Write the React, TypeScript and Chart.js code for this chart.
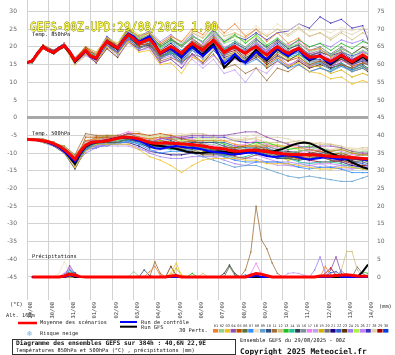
import { useEffect, useRef } from "react";
import { Chart, registerables } from "chart.js";
Chart.register(...registerables);

const titleText = "GEFS-00Z-UPD:29/08/2025 1.00";
const dateLabels = ["29/08","30/08","31/08","01/09","02/09","03/09","04/09","05/09","06/09","07/09","08/09","09/09","10/09","11/09","12/09","13/09","14/09"];
const dayHours = [0,24,48,72,96,120,144,168,192,216,240,264,288,312,336,360,384];
const tempTicks = [30,25,20,15,10,5,0,-5,-10,-15,-20,-25,-30,-35,-40,-45];
const rightTicks = [75,70,65,60,55,50,45,40,35,30,25,20,15,10,5,0];
const pertLabels = ["01","02","03","04","05","06","07","08","09","10","11","12","13","14","15","16","17","18","19","20","21","22","23","24","25","26","27","28","29","30"];
const memberColors = ["#f08030","#90d090","#f0c020","#9050b0","#c05000","#607030","#3090ff","#f0e0c0","#60a0d0","#305080","#a0703a","#d0c080","#20c020","#20c0a0","#304050","#8090a0","#f080f0","#c0a0f0","#d0b000","#707070","#200080","#3060d0","#603000","#a080f0","#b0f040","#c080ff","#4030c0","#e0d0b0","#a00000","#0040e0"];

const hours6 = [0,6,12,18,24,30,36,42,48,54,60,66,72,78,84,90,96,102,108,114,120,126,132,138,144,150,156,162,168,174,180,186,192,198,204,210,216,222,228,234,240,246,252,258,264,270,276,282,288,294,300,306,312,318,324,330,336,342,348,354,360,366,372,378,384];
const memberHours = [0,6,18,30,42,54,66,78,90,102,114,126,138,150,162,174,186,198,210,222,234,246,258,270,282,294,306,318,330,342,354,366,378,384];

const t850Mean = [15.6,16.0,18.2,20.0, 19.0,18.4,19.6,20.3, 18.6,16.2,17.6,19.0, 17.4,16.8,19.6,21.5, 20.6,19.6,21.6,23.4, 22.4,21.0,21.6,22.2, 20.4,18.3,19.2,20.1, 19.2,18.2,19.8,21.0, 20.0,19.1,20.6,21.9, 20.2,18.4,19.4,20.1, 19.0,18.2,19.3,20.1, 18.8,17.7,19.0,20.1, 19.0,18.2,19.0,19.6, 18.2,17.1,17.2,17.4, 16.6,15.9,16.8,17.7, 16.6,15.8,16.8,17.7, 16.8];
const t850Control = [15.5,16.0,18.3,20.0, 19.2,18.5,19.8,20.5, 18.8,16.0,17.4,18.8, 17.2,16.5,19.4,21.6, 20.8,19.8,22.0,23.8, 23.0,21.4,22.3,23.0, 21.0,18.0,18.8,19.5, 18.3,17.0,18.6,20.0, 18.6,17.4,18.8,20.2, 17.6,15.2,16.4,18.0, 16.5,15.5,17.0,18.6, 17.4,16.6,18.2,19.6, 18.3,17.4,18.4,19.2, 17.6,16.4,17.0,17.8, 16.2,15.4,16.6,17.9, 16.8,16.0,16.8,17.6, 16.6];
const t850Gfs = [15.6,16.1,18.4,20.2, 19.0,18.2,19.4,20.1, 18.3,15.8,17.3,18.9, 17.3,16.6,19.6,21.4, 20.3,19.4,21.7,23.5, 22.6,21.2,21.8,22.6, 20.8,18.1,19.0,20.0, 18.8,17.8,19.4,20.6, 19.0,17.8,19.5,20.8, 17.8,14.2,15.6,17.2, 16.0,15.8,17.6,19.2, 17.8,16.2,17.8,19.4, 18.4,17.6,18.6,19.4, 17.5,16.2,16.8,17.6, 16.0,15.0,16.2,17.4, 16.3,15.4,16.2,17.2, 16.0];

const t850Members = [
  [15.5,16,20.5,18.5,21, 16,19.5,18,22.5, 20.5,25,23,24, 21,23,21.5,25, 23.5,27,24,26.5, 23,25,21.5,24, 21,22.5,19,19.5, 17,18.5,16,18,17],
  [15.5,16,19.5,18.5,20.5, 16.5,19,17.5,22.5, 20.5,24.5,22.5,23, 19.5,21.5,20,23, 21.5,24,21,22, 20,21.5,19.5,22.5, 20,21,18.5,19.5, 17.5,19.5,18,19,18.5],
  [15.5,16,20,18,20, 15,18,16,20, 18,21.5,18.5,19, 15,15.5,12.5,17, 16,19.5,16.5,18.5, 16,18,14.5,17, 14.5,15.5,13,12.5, 11,11.5,9.5,10.5,10],
  [15.5,16.5,20,18.5,21, 15.5,18,15.5,20.5, 18.5,22,19,20, 15.5,16.5,14,18, 17,20.5,17.5,20, 19,21.5,18.5,20.5, 18,20,18,18, 16,17,15,16.5,15.5],
  [15.5,16,20.5,19,20.5, 16.5,20,17.5,22.5, 20,23.5,20.5,21, 17.5,19.5,18,21.5, 20,23,19,20, 17.5,19,16,18, 16,17,15,16, 15,16.5,14.5,15.5,15],
  [15.5,15.5,19.5,18.5,20, 16,19.5,17,22, 20.5,25,22,23.5, 20.5,22.5,20,22.5, 20,22,17.5,18.5, 16,17.5,15.5,18.5, 17,19.5,17.5,18.5, 17.5,19.5,18,20,19.5],
  [15.5,16,20,19,21, 16,18.5,16.5,20.5, 18.5,23,21,22.5, 19.5,21.5,19,21.5, 19,21,16.5,17.5, 15,16.5,14.5,16.5, 14,15,13,14, 13,14.5,13.5,15.5,15],
  [15.5,16,20.5,18.5,20.5, 16.5,19.5,18,22.5, 21,24.5,22,23.5, 20.5,22.5,21,24.5, 23,26.5,23.5,25, 23.5,26,23.5,26.5, 24.5,26.5,24.5,25, 24,25.5,24.5,25.5,25],
  [15.5,16,19.5,18,20.5, 15.5,18,16.5,20.5, 18,22.5,19.5,21, 17,18,15.5,19, 16.5,19,16,18, 16.5,19,16,19, 17.5,18.5,15.5,15.5, 13.5,14.5,13,14,13.5],
  [15.5,16.5,20.5,18.5,20.5, 15.5,19,17.5,21.5, 20,24.5,21.5,22, 18,19,16.5,20, 18.5,22,19,21, 19.5,22,20,22, 19.5,20.5,17.5,17.5, 15.5,16.5,15,16,16],
  [15.5,16,20,18,20.5, 16,18.5,16,21, 18.5,22,20,20, 16,17,15.5,18, 15.5,18,14,15, 12.5,14,10.5,14, 13,15,13,14, 13,15,14,15.5,15.5],
  [15.5,16,20.5,19,21, 17,20,18.5,22.5, 20,24.5,22.5,24, 21,23,21.5,24, 22.5,26,23,24, 22.5,25,23,25, 23.5,25.5,23,24, 22,24,22,24,23],
  [15.5,16,20,19,21, 16.5,19,16.5,21.5, 20,24.5,22.5,24, 20,22,20.5,23, 21.5,25,21.5,23.5, 21,23.5,20.5,22.5, 20,22,20,21, 19,21,19.5,21.5,21],
  [15.5,15.5,20,18.5,20, 15.5,18.5,16,21, 18.5,23,21,21.5, 17.5,18.5,17,20.5, 19,22.5,19.5,21.5, 19,20.5,17.5,19.5, 17,18,15,15.5, 13.5,15.5,13.5,14.5,14],
  [15.5,16,20.5,18.5,20.5, 16,19.5,17,22, 19.5,23,20,20.5, 17.5,18.5,16,19.5, 18,21.5,18.5,19.5, 17,18.5,15.5,17.5, 16,18,16,16, 14,15,14,15,14],
  [15.5,16,19.5,18.5,21, 16,19.5,18,22, 19.5,24,22,22.5, 18.5,19.5,18,21.5, 20,23.5,19.5,20.5, 18,19.5,16.5,19.5, 18,20,18,19, 18,19,17,19,18],
  [15.5,16.5,20.5,18.5,20.5, 15.5,18.5,17,22, 20.5,24,21,21.5, 17.5,19.5,18,22, 20.5,24,20,21, 18.5,21,19,22, 20.5,21.5,18.5,18.5, 16.5,17.5,16.5,18.5,18],
  [15.5,16,20,18,20, 15,17.5,16,20, 17.5,21,19,19.5, 15.5,16.5,14,16.5, 14,16.5,12.5,13.5, 10,14,12.5,16, 14.5,16.5,14.5,15.5, 14.5,16.5,14.5,16.5,16],
  [15.5,16,20.5,19,20.5, 16.5,20,18.5,22.5, 21,25.5,22.5,23, 19,20,17.5,20, 17.5,21,18,20, 18.5,20,17,19, 16.5,17.5,14.5,14.5, 12.5,13.5,11.5,12.5,12],
  [15.5,16,20,18.5,21, 16,18.5,17,21, 18.5,23,20,20.5, 16.5,18.5,17,20.5, 19,22.5,19.5,21.5, 20,22.5,19.5,21.5, 19,21,19,20, 18,20,18,20,19],
  [15.5,16,20.5,18.5,20.5, 15.5,19,16.5,20.5, 18,22.5,20.5,22, 19,21,18.5,21, 18.5,21,17,18, 15.5,18,16,19, 17.5,19.5,17.5,18.5, 17.5,18.5,16.5,17.5,17],
  [15.5,16,19.5,18,20, 16,19.5,18,23, 20.5,24,21,21.5, 17.5,18,15.5,19, 17.5,21,18,20, 18.5,21,18,20, 17.5,18.5,16.5,17.5, 16.5,18.5,17.5,18.5,18],
  [15.5,16,20,19,20.5, 15.5,18,15.5,19.5, 17,21.5,19.5,21, 17,18,15.5,18, 15.5,19,16,18, 15.5,17,14,16, 14,16,14,15, 14,15,13,14,13],
  [15.5,16.5,20,19,21, 17,19.5,17,22, 20.5,25,23,24.5, 21.5,23.5,21,23.5, 21,23.5,19.5,20.5, 18,20.5,18.5,21.5, 20,22,20,21, 20,22,21,22,21],
  [15.5,16,20.5,18.5,20, 15.5,19,17.5,22.5, 21,25.5,23.5,24, 20,21,18.5,22, 20.5,24,21,23, 21.5,23,20,22, 19.5,20.5,17.5,17.5, 15.5,17.5,16.5,18.5,17.5],
  [15.5,16,19.5,18,20.5, 15.5,18.5,16,20, 18.5,23,20,20.5, 16.5,17.5,15,17.5, 15,17.5,14.5,16.5, 15,17.5,15.5,17.5, 15,16,14,15, 14,16,15,16,15],
  [15.5,16,20,18.5,20.5, 16,19.5,17.5,22, 20,24,21.5,23, 20,22,20,23, 21.5,24.5,21.5,23, 22,24,22,24, 24.5,26.5,25.3,28.5, 26.7,27.8,25.3,26,22],
  [15.5,16,20,19,21, 16,19.5,17.5,22.5, 20,24.5,22.5,23, 20,22,20.5,24, 22.5,25,22,24, 22.5,25,23,25, 23,25,23,24, 22.5,24.5,23.5,25,24],
  [15.5,16,20.5,19,21, 16,19,17.5,22, 19.5,23,20.5,21, 17,19,17.5,21, 19.5,22,18,19, 16.5,18,15,17, 14.5,16.5,14.5,15.5, 14.5,15.5,13.5,14.5,13.5],
  [15.5,16,20,18.5,20.5, 16.5,20,17.5,21.5, 19,22.5,19.5,21, 18,20,18.5,22, 19.5,22,18,20, 18.5,21,19,21, 18.5,19.5,16.5,16.5, 14.5,16.5,15.5,16.5,15.5]
];

const t500Mean = [-6.1,-6.2,-6.3,-6.5, -6.8,-7.3,-8.0,-9.0, -10.3,-11.8,-9.5,-7.8, -7.0,-6.8,-6.7,-6.5, -6.2,-5.8,-5.5,-5.5, -5.7,-6.0,-6.5,-7.0, -7.2,-7.2,-7.1,-7.2, -7.3,-7.4,-7.5,-7.6, -7.8,-8.0,-8.3,-8.5, -8.6,-8.8,-9.2,-9.5, -9.5,-9.3,-9.2,-9.2, -9.4,-9.6,-9.8,-10.0, -10.2,-10.3,-10.4,-10.5, -10.5,-10.5,-10.5,-10.6, -10.8,-10.9,-11.0,-11.0, -11.2,-11.3,-11.4,-11.5, -11.6];
const t500Control = [-6.1,-6.2,-6.4,-6.6, -7.0,-7.6,-8.4,-9.6, -11.0,-12.4,-10.0,-8.0, -7.2,-6.9,-6.6,-6.4, -6.0,-5.7,-5.5,-5.6, -6.0,-6.5,-7.2,-8.0, -8.6,-8.8,-8.5,-8.2, -8.0,-8.2,-8.4,-8.5, -8.7,-9.0,-9.4,-9.6, -9.8,-10.0,-10.3,-10.4, -10.2,-10.0,-9.8,-10.0, -10.4,-10.8,-11.0,-11.0, -10.8,-10.6,-10.8,-11.2, -11.6,-11.8,-11.6,-11.4, -11.2,-11.4,-11.6,-11.8, -11.6,-11.4,-11.5,-11.8, -12.0];
const t500Gfs = [-6.1,-6.2,-6.3,-6.6, -7.0,-7.5,-8.3,-9.5, -11.2,-13.0,-10.2,-8.2, -7.3,-7.0,-6.8,-6.5, -6.1,-5.8,-5.6,-5.6, -5.9,-6.3,-6.8,-7.4, -7.8,-8.0,-8.2,-8.5, -8.8,-9.2,-9.6,-9.8, -10.0,-9.9,-9.7,-9.6, -9.5,-9.6,-9.8,-9.9, -9.8,-9.6,-9.4,-9.3, -9.4,-9.6,-9.6,-9.2, -8.8,-8.2,-7.6,-7.2, -7.0,-7.2,-7.8,-8.6, -9.4,-10.0,-10.6,-11.2, -11.8,-12.6,-13.3,-14.0, -14.4];

const t500Members = [
  [-6,-6,-6.5,-7,-9, -11,-6.5,-6,-6, -5.5,-5.5,-5.5,-6, -5.5,-6,-7,-6.5, -6.5,-6.5,-6.5,-7.5, -8,-8,-8,-8, -8,-8.5,-9,-9.5, -9.5,-9,-10,-10.5,-10.5],
  [-6,-6,-6,-7.5,-8.5, -11.5,-8,-6.5,-6.5, -6.5,-5.5,-5.5,-7, -7.5,-8,-8,-7.5, -7.5,-7.5,-8.5,-9.5, -9,-8,-8,-9, -10,-9.5,-9,-8.5, -9.5,-10,-10,-9.5,-9.5],
  [-6,-6,-7,-7.5,-10, -14,-9.5,-7.5,-7.5, -7.5,-7.5,-9,-11, -12,-13.5,-15.5,-13.5, -12,-11.5,-11.5,-11.5, -12,-12,-13,-13, -13,-13.5,-14,-14.5, -14.5,-14,-14,-14.5,-14.5],
  [-6,-6,-6.5,-8,-8.5, -11,-6.5,-6.5,-6.5, -5.5,-4.5,-5.5,-7, -6,-5.5,-5.5,-5, -5,-5,-5,-4.5, -4,-4,-5.5,-6.5, -7.5,-8,-8.5,-8, -8,-8.5,-9.5,-10,-10],
  [-6,-6,-6,-7,-9, -13,-5.5,-5.5,-5.5, -5.5,-4.5,-4.5,-5, -4.5,-5,-6,-6.5, -7.5,-8.5,-8.5,-8.5, -8,-8,-9,-10, -11,-11.5,-11,-10.5, -10.5,-10,-11,-11.5,-12],
  [-6,-6,-6.5,-7.5,-9.5, -13.5,-8.5,-7,-7, -7,-6,-6,-6.5, -7,-7.5,-8.5,-9, -10,-10,-10,-10, -9.5,-8.5,-9.5,-10.5, -11.5,-12,-11.5,-11, -11,-10.5,-11.5,-12,-12.5],
  [-6,-6,-6.5,-7.5,-9, -12.5,-9,-7.5,-7.5, -7.5,-6.5,-7.5,-9, -10,-9.5,-9.5,-9, -9,-10,-11,-12, -12.5,-12.5,-12.5,-12.5, -13,-14,-14.5,-14, -14,-14.5,-15.5,-15.5,-15.5],
  [-6,-6,-6,-7.5,-8.5, -11,-7,-6.5,-6, -6,-5,-5,-5.5, -5,-4.5,-4.5,-5, -6,-6,-6,-6, -5.5,-4.5,-5.5,-6.5, -7.5,-7,-7.5,-8, -9,-8.5,-8.5,-9,-9.5],
  [-6,-6,-7,-8,-9.5, -13,-9,-7.5,-7.5, -7,-7,-7,-7.5, -8,-8.5,-9.5,-10, -11,-12,-13,-14, -13.5,-13.5,-14.5,-15.5, -16.5,-17,-16.5,-17, -17.5,-18,-18,-17,-16.5],
  [-6,-6,-6.5,-7,-8.5, -12,-8.5,-7,-6, -6,-6,-7,-8.5, -8,-7.5,-7.5,-7, -7,-7,-8,-9, -9.5,-9.5,-10.5,-11.5, -11.5,-11,-10.5,-10, -11,-11.5,-12.5,-12.5,-13],
  [-6,-6,-6.5,-7.5,-8, -10.5,-4.5,-5,-5, -5,-5,-6,-7.5, -8,-8.5,-8.5,-8, -8,-9,-10,-11, -11.5,-10.5,-10.5,-10.5, -10.5,-10,-10.5,-11, -12,-12.5,-12.5,-12,-11.5],
  [-6,-6,-6,-7,-9, -11.5,-7,-5.5,-5.5, -5.5,-4.5,-4.5,-6, -5.5,-5,-5,-4.5, -4.5,-5.5,-6.5,-6.5, -6,-6,-7,-7, -7,-6.5,-7,-7.5, -7.5,-8,-9,-8.5,-8.5],
  [-6,-6,-6.5,-7.5,-9, -11.5,-8,-7.5,-6.5, -5.5,-5.5,-6.5,-8, -7.5,-7,-7,-6.5, -6.5,-6.5,-7.5,-8.5, -8,-7,-7,-8, -9,-8.5,-8,-8.5, -9.5,-9,-10,-10.5,-10.5],
  [-6,-6,-7,-7.5,-9.5, -12.5,-9,-7.5,-6.5, -6.5,-6.5,-7.5,-8, -8.5,-9,-9,-8.5, -8.5,-9.5,-10.5,-11.5, -11,-10,-10,-11, -11.5,-12.5,-13,-12.5, -12.5,-13,-14,-14.5,-14.5],
  [-6,-6,-6.5,-8,-10, -14.5,-9,-7.5,-7, -6,-5,-6,-7.5, -7,-6.5,-7.5,-8, -9,-9,-9,-9, -9.5,-9.5,-9.5,-9.5, -9.5,-10,-10.5,-11, -11,-10.5,-11.5,-12,-12],
  [-6,-6,-6,-7.5,-9, -12.5,-7.5,-6,-6, -6,-6,-7,-8.5, -9,-8.5,-8.5,-8, -8,-9,-10,-10, -9.5,-8.5,-8.5,-9.5, -10.5,-11,-11.5,-11, -11,-11.5,-12.5,-12,-12],
  [-6,-6,-6.5,-7,-8.5, -11,-7.5,-7,-6, -5,-4,-5,-6.5, -6,-5.5,-5.5,-6, -7,-8,-8,-8, -7.5,-6.5,-7.5,-8.5, -9.5,-10,-9.5,-9, -9,-9.5,-10.5,-10,-10],
  [-6,-6,-7,-8,-10, -13.5,-9.5,-8,-8, -8,-8,-9,-9.5, -9,-8.5,-9.5,-10, -11,-11,-11,-11, -11.5,-11.5,-12.5,-13.5, -13.5,-13,-12.5,-13, -14,-14.5,-14.5,-14,-14],
  [-6,-6,-6,-7,-8.5, -10.5,-7,-6.5,-6.5, -6.5,-5.5,-5.5,-6, -6.5,-7,-8,-8.5, -9.5,-9.5,-9.5,-9.5, -9,-9,-10,-11, -12,-11.5,-11,-10.5, -10.5,-10,-11,-11.5,-11.5],
  [-6,-6,-6.5,-7.5,-9.5, -13,-8,-6.5,-5.5, -5.5,-5.5,-5.5,-6, -5.5,-6,-7,-7.5, -8.5,-8.5,-8.5,-8.5, -9,-9,-10,-10, -10,-9.5,-9,-9.5, -10.5,-11,-11,-10.5,-10.5],
  [-6,-6,-6.5,-7,-9, -13,-8.5,-7,-7, -7,-7,-8,-9.5, -10,-10.5,-10.5,-10, -10,-10,-10,-10, -9.5,-9.5,-10.5,-11.5, -11.5,-11,-10.5,-11, -12,-12.5,-13.5,-14,-14],
  [-6,-6,-7,-7.5,-8.5, -11.5,-8.5,-8,-8, -7,-6,-7,-8.5, -8,-7.5,-7.5,-7, -7,-7,-7,-8, -8.5,-8.5,-9.5,-10.5, -11.5,-12,-11.5,-11, -11,-11.5,-12.5,-13,-13.5],
  [-6,-6,-6.5,-8,-9, -12.5,-7,-5.5,-5.5, -5.5,-4.5,-5.5,-7, -7.5,-8,-9,-9.5, -10.5,-10.5,-10.5,-10.5, -10,-9,-9,-10, -11,-10.5,-10,-9.5, -10.5,-11,-12,-11.5,-11.5],
  [-6,-6,-6,-7.5,-9.5, -13.5,-10,-8.5,-7.5, -7.5,-7.5,-8.5,-10, -11,-11.5,-11.5,-11, -11,-11,-12,-13, -13.5,-12.5,-12.5,-12.5, -12.5,-13,-13.5,-14, -14,-13.5,-13.5,-14,-14.5],
  [-6,-6,-6.5,-7,-8, -11,-7.5,-6,-5, -5,-5,-5,-5.5, -5,-5.5,-6.5,-6, -6,-6,-7,-8, -8.5,-7.5,-7.5,-7.5, -8.5,-9,-9.5,-9, -9,-8.5,-9.5,-10,-10],
  [-6,-6,-7,-8,-9, -12,-8.5,-8,-7, -6,-5,-6,-7.5, -8,-7.5,-7.5,-8, -9,-10,-11,-12, -11.5,-10.5,-11.5,-12.5, -13.5,-14,-13.5,-13, -13,-13.5,-14.5,-14,-13.5],
  [-6,-6,-6.5,-7.5,-8.5, -11.5,-7,-6.5,-6.5, -6.5,-6.5,-6.5,-7, -6.5,-6,-6,-5.5, -5.5,-5.5,-5.5,-6.5, -7,-7,-8,-9, -10,-9.5,-9,-9.5, -10.5,-10,-11,-11.5,-12],
  [-6,-6,-6.5,-7,-9, -11.5,-6.5,-5,-5, -5,-4,-4,-5.5, -6,-5.5,-5.5,-5, -5,-5,-5,-6, -6.5,-5.5,-5.5,-5.5, -6,-7,-7.5,-7, -7.5,-8.5,-9.5,-9,-9],
  [-6,-6,-6.5,-7.5,-9, -13,-8,-6.5,-6.5, -6.5,-6.5,-6.5,-7, -7.5,-8,-9,-8.5, -8.5,-9.5,-10.5,-10.5, -10,-9,-9,-10, -11,-11.5,-12,-12.5, -12.5,-12,-13,-13.5,-13.5],
  [-6,-6,-6,-7.5,-9, -12,-9,-8.5,-7.5, -6.5,-5.5,-5.5,-7, -7.5,-7,-7,-6.5, -7.5,-8.5,-9.5,-9.5, -9,-8,-8.5,-10, -11,-10.5,-10,-10.5, -11.5,-12,-12,-11.5,-11.5]
];

// precipitation (mm): [hour, mm] pairs
const precipMean = [[6,0],[36,0],[42,0.3],[48,0.8],[54,0.5],[60,0.1],[66,0],[156,0],[162,0.3],[168,0.4],[174,0],[246,0],[252,0.5],[258,1],[264,0.8],[270,0.4],[276,0],[324,0],[330,0.3],[342,0.3],[348,0.4],[360,0.6],[372,0.3],[384,0.2]];
const precipControl = [[6,0],[42,0],[48,0.5],[54,0.3],[60,0],[252,0],[258,0.5],[264,0],[342,0],[348,0.6],[354,0],[384,0]];
const precipGfs = [[6,0],[42,0],[48,0.7],[54,0],[372,0],[378,1.5],[384,3.5]];
const precipMembers = [
  [[6,0],[132,0],[138,1.5],[144,3],[150,0.5],[156,0],[330,0],[336,3],[342,0.5],[348,0],[384,0]],
  [[6,0],[114,0],[120,1.5],[126,0.3],[132,0],[384,0]],
  [[6,0],[156,0],[162,1],[168,3.9],[174,0.5],[180,0],[384,0]],
  [[6,0],[42,0],[48,3.2],[54,1],[60,0],[336,0],[342,2],[348,5.7],[354,1],[360,0],[384,0]],
  [[6,0],[48,0],[54,0.8],[60,0],[384,0]],
  [[6,0],[222,0],[228,3],[234,0.5],[240,0],[384,0]],
  [[6,0],[42,0],[48,2],[54,1],[60,0],[240,0],[246,0.6],[252,0],[384,0]],
  [[6,0],[30,0],[36,1],[42,4.3],[48,1.5],[54,0],[384,0]],
  [[6,0],[348,0],[354,1.7],[360,0.5],[366,0],[384,0]],
  [[6,0],[126,0],[132,2],[138,0.4],[144,0],[384,0]],
  [[6,0],[138,0],[144,4.3],[150,1],[156,0],[240,0],[246,2],[252,7],[258,20],[264,10.5],[270,8],[276,4],[282,1],[288,0],[384,0]],
  [[6,0],[192,0],[198,1],[204,0],[348,0],[354,2],[360,7.2],[366,7.2],[372,2],[378,0],[384,0]],
  [[6,0],[42,0],[48,1.5],[54,0.8],[60,0],[180,0],[186,1],[192,0],[372,0],[378,1.5],[384,1]],
  [[6,0],[384,0]],
  [[6,0],[216,0],[222,1],[228,3.4],[234,1],[240,0],[384,0]],
  [[6,0],[36,0],[42,0.5],[48,2],[54,0.3],[60,0],[384,0]],
  [[6,0],[246,0],[252,1],[258,3.9],[264,0.8],[270,0],[384,0]],
  [[6,0],[288,0],[294,1],[300,1.2],[306,1],[312,0.5],[318,0],[384,0]],
  [[6,0],[162,0],[168,2.5],[174,0.5],[180,0],[384,0]],
  [[6,0],[366,0],[372,2.8],[378,1],[384,0]],
  [[6,0],[384,0]],
  [[6,0],[336,0],[342,1.2],[348,1.5],[354,0.5],[360,0],[384,0]],
  [[6,0],[42,0],[48,1],[54,1.2],[60,0],[156,0],[162,3],[168,0.5],[174,0],[384,0]],
  [[6,0],[318,0],[324,2],[330,5.7],[336,1],[342,0],[384,0]],
  [[6,0],[384,0]],
  [[6,0],[36,0],[42,1],[48,2.5],[54,0.5],[60,0],[384,0]],
  [[6,0],[384,0]],
  [[6,0],[384,0]],
  [[6,0],[330,0],[336,1],[342,2.6],[348,0.5],[354,0],[384,0]],
  [[6,0],[42,0],[48,1.5],[54,1],[60,0],[384,0]]
];

const MONO = '"DejaVu Sans Mono", monospace';

function series(hours: number[], vals: number[]) {
  return vals.map((v, i) => ({ x: hours[i], y: v }));
}
function pairs(list: number[][]) {
  return list.map((p) => ({ x: p[0], y: p[1] }));
}
function line(data: any[], color: string, width: number, axis: string, order: number, pr: number) {
  return {
    data, borderColor: color, backgroundColor: color, borderWidth: width,
    pointRadius: pr, pointStyle: "rect", pointBorderWidth: 0, pointHoverRadius: 0,
    yAxisID: axis, order, tension: 0, fill: false,
  };
}

const overlay = {
  id: "overlay",
  afterDraw(chart: any) {
    const c = chart.ctx as CanvasRenderingContext2D;
    c.save();
    c.textBaseline = "middle";
    c.textAlign = "left";
    c.fillStyle = "#111";
    c.font = `5.3px ${MONO}`;
    c.fillText("Temp. 850hPa", 32, 34.5);
    c.fillText("Temp. 500hPa", 32, 133.5);
    c.fillText("Précipitations", 32, 257);

    // title
    c.font = `13px ${MONO}`;
    c.lineWidth = 0.8;
    c.strokeStyle = "#707000";
    c.fillStyle = "#ffff40";
    c.strokeText(titleText, 30, 27.5, 188);
    c.fillText(titleText, 30, 27.5, 188);

    // axis units
    c.fillStyle = "#222";
    c.font = `5.3px ${MONO}`;
    c.fillText("(°C)", 10, 305);
    c.fillText("Alt. 160m", 6, 315.5);
    c.fillText("(mm)", 379, 307);

    // legend lines
    c.lineWidth = 2.5; c.strokeStyle = "#ff0000";
    c.beginPath(); c.moveTo(18, 323); c.lineTo(37, 323); c.stroke();
    c.lineWidth = 2; c.strokeStyle = "#0000ff";
    c.beginPath(); c.moveTo(120, 322); c.lineTo(137, 322); c.stroke();
    c.strokeStyle = "#000000";
    c.beginPath(); c.moveTo(120, 326.7); c.lineTo(137, 326.7); c.stroke();
    c.fillStyle = "#222";
    c.fillText("Moyenne des scénarios", 40, 323);
    c.fillText("Run de contrôle", 141, 322.3);
    c.fillText("Run GFS", 141, 327.2);
    c.fillText("Risque neige", 40, 333.8);
    c.fillStyle = "#6aaee0";
    c.font = `7px "DejaVu Sans"`;
    c.textAlign = "center";
    c.fillText("❄", 29.5, 333.8);
    c.textAlign = "left";

    // perturbation colour boxes
    c.fillStyle = "#222";
    c.font = `5.3px ${MONO}`;
    c.fillText("30 Perts.", 179, 330.5);
    const bw = 176 / 30;
    c.font = `3.6px ${MONO}`;
    c.textAlign = "center";
    pertLabels.forEach((lab, i) => {
      const x0 = 213 + i * bw;
      c.fillStyle = memberColors[i];
      c.fillRect(x0, 329, bw - 0.6, 3.6);
      c.fillStyle = "#333";
      c.fillText(lab, x0 + bw / 2, 326.2);
    });
    c.textAlign = "left";

    // info box
    c.strokeStyle = "#333"; c.lineWidth = 1;
    c.strokeRect(12.5, 339.5, 223, 15);
    c.fillStyle = "#111";
    c.font = `bold 6.2px ${MONO}`;
    c.fillText("Diagramme des ensembles GEFS sur 384h : 40,6N 22,9E", 16, 343.5);
    c.font = `5.3px ${MONO}`;
    c.fillText("Températures 850hPa et 500hPa (°C) , précipitations (mm)", 16, 350.7);
    c.fillText("Ensemble GEFS du 29/08/2025 - 00Z", 240, 341);
    c.font = `bold 7.8px ${MONO}`;
    c.fillText("Copyright 2025 Meteociel.fr", 240, 351.5);
    c.restore();
  },
};

export default function App() {
  const ref = useRef<HTMLCanvasElement | null>(null);
  useEffect(() => {
    if (!ref.current) return;
    const datasets: any[] = [];
    datasets.push(line(series(hours6, t850Mean), "#ff0000", 3, "y", 0, 0));
    datasets.push(line(series(hours6, t500Mean), "#ff0000", 3, "y", 0, 0));
    datasets.push(line(pairs(precipMean), "#ff0000", 3, "y2", 0, 0));
    datasets.push(line(series(hours6, t850Control), "#0000ff", 2, "y", 1, 0));
    datasets.push(line(series(hours6, t500Control), "#0000ff", 2, "y", 1, 0));
    datasets.push(line(pairs(precipControl), "#0000ff", 2, "y2", 1, 0));
    datasets.push(line(series(hours6, t850Gfs), "#000000", 2, "y", 2, 0));
    datasets.push(line(series(hours6, t500Gfs), "#000000", 2, "y", 2, 0));
    datasets.push(line(pairs(precipGfs), "#000000", 2, "y2", 2, 0));
    memberColors.forEach((col, k) => {
      datasets.push(line(series(memberHours, t850Members[k]), col, 0.8, "y", 3 + k, 0.9));
      datasets.push(line(series(memberHours, t500Members[k]), col, 0.8, "y", 3 + k, 0.9));
      datasets.push(line(pairs(precipMembers[k]), col, 0.8, "y2", 3 + k, 0.9));
    });

    const chart = new Chart(ref.current, {
      type: "line",
      data: { datasets },
      plugins: [overlay],
      options: {
        responsive: false,
        animation: false,
        devicePixelRatio: 1,
        layout: { padding: 0, autoPadding: false },
        plugins: { legend: { display: false }, tooltip: { enabled: false } },
        events: [],
        scales: {
          x: {
            type: "linear", min: 0, max: 384, position: "bottom",
            afterBuildTicks: (s: any) => { s.ticks = dayHours.map((v) => ({ value: v })); },
            afterFit: (s: any) => { s.height = 55; s.paddingLeft = 0; s.paddingRight = 0; },
            grid: { color: "#d2d2d2", lineWidth: 1, drawTicks: false },
            border: { display: false },
            ticks: {
              autoSkip: false, minRotation: 90, maxRotation: 90, padding: 2, labelOffset: 4,
              color: "#333", font: { family: "DejaVu Sans Mono", size: 5.5 },
              callback: (v: any) => dateLabels[dayHours.indexOf(Number(v))] ?? "",
            },
          },
          y: {
            type: "linear", min: -51.5, max: 33.25, position: "left",
            afterBuildTicks: (s: any) => { s.ticks = tempTicks.map((v) => ({ value: v })); },
            afterFit: (s: any) => { s.width = 27; s.paddingTop = 0; s.paddingBottom = 0; },
            grid: {
              drawTicks: false,
              color: (ctx: any) => (ctx.tick && ctx.tick.value === 0 ? "#a8a8a8" : "#d2d2d2"),
              lineWidth: (ctx: any) => (ctx.tick && ctx.tick.value === 0 ? 3 : 1),
            },
            border: { display: false },
            ticks: { padding: 10, color: "#666", font: { family: "DejaVu Sans", size: 6 } },
          },
          y2: {
            type: "linear", min: -6.5, max: 78.25, position: "right",
            afterBuildTicks: (s: any) => { s.ticks = rightTicks.map((v) => ({ value: v })); },
            afterFit: (s: any) => { s.width = 27; s.paddingTop = 0; s.paddingBottom = 0; },
            grid: { display: false, drawTicks: false },
            border: { display: false },
            ticks: { padding: 9, color: "#666", font: { family: "DejaVu Sans", size: 6 } },
          },
        },
      } as any,
    });
    return () => chart.destroy();
  }, []);
  return (
    <div style={{ position: "fixed", left: 0, top: 0, width: 395, height: 355, background: "#fff" }}>
      <canvas ref={ref} width={395} height={355} style={{ display: "block", width: 395, height: 355 }} />
    </div>
  );
}
